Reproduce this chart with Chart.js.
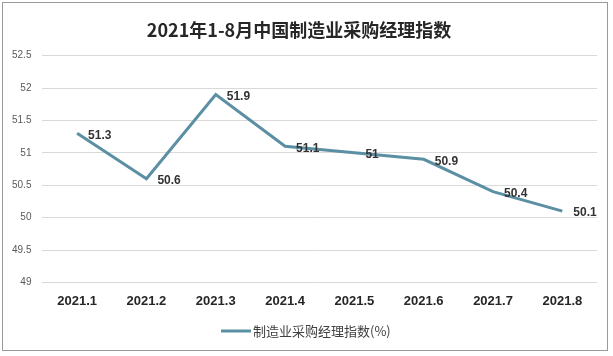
<!DOCTYPE html>
<html><head><meta charset="utf-8">
<script src="https://cdn.jsdelivr.net/npm/chart.js@4/dist/chart.umd.min.js"></script>
<style>html,body{margin:0;padding:0;background:#fff}#wrap{width:613px;height:356px;position:relative}</style>
</head><body><div id="wrap"><canvas id="c" width="613" height="356"></canvas></div>
<script>
const categories = ['2021.1','2021.2','2021.3','2021.4','2021.5','2021.6','2021.7','2021.8'];
const pmiValues = [51.3, 50.6, 51.9, 51.1, 51, 50.9, 50.4, 50.1];
const seriesName = '制造业采购经理指数(%)';
const titleText = '2021年1-8月中国制造业采购经理指数';
const yTicks = [49, 49.5, 50, 50.5, 51, 51.5, 52, 52.5];

const CJK = '"Noto Sans CJK SC", "Liberation Sans", sans-serif';
const LAT = '"Liberation Sans", Arial, sans-serif';
const lineColor = '#5b8fa3';

const borderPlugin = {
  id: 'frame',
  beforeDraw(chart) {
    const ctx = chart.ctx;
    ctx.save();
    ctx.fillStyle = '#fff';
    ctx.fillRect(0, 0, chart.width, chart.height);
    ctx.strokeStyle = '#9a9a9a';
    ctx.lineWidth = 1;
    ctx.strokeRect(2.5, 2.5, 605, 348);
    ctx.restore();
  }
};

const labelPlugin = {
  id: 'valueLabels',
  afterDatasetsDraw(chart) {
    const ctx = chart.ctx;
    const meta = chart.getDatasetMeta(0);
    ctx.save();
    ctx.font = 'bold 12px ' + LAT;
    ctx.fillStyle = '#333333';
    ctx.textAlign = 'left';
    ctx.textBaseline = 'middle';
    meta.data.forEach((pt, i) => {
      ctx.fillText(String(chart.data.datasets[0].data[i]), pt.x + 11, pt.y + 2);
    });
    ctx.restore();
  }
};

const legendPlugin = {
  id: 'customLegend',
  afterDraw(chart) {
    const ctx = chart.ctx;
    ctx.save();
    ctx.font = '13px ' + CJK;
    const tw = ctx.measureText(seriesName).width;
    const lw = 30, gap = 2;
    const total = lw + gap + tw;
    const x0 = Math.round(chart.width / 2 - 1 - total / 2);
    const y = 331;
    ctx.strokeStyle = lineColor;
    ctx.lineWidth = 3;
    ctx.beginPath();
    ctx.moveTo(x0, y);
    ctx.lineTo(x0 + lw, y);
    ctx.stroke();
    ctx.fillStyle = '#404040';
    ctx.textAlign = 'left';
    ctx.textBaseline = 'middle';
    ctx.fillText(seriesName, x0 + lw + gap, y);
    ctx.restore();
  }
};

new Chart(document.getElementById('c'), {
  type: 'line',
  data: {
    labels: categories,
    datasets: [{
      label: seriesName,
      data: pmiValues,
      borderColor: lineColor,
      backgroundColor: lineColor,
      borderWidth: 3,
      pointRadius: 0,
      tension: 0,
      fill: false
    }]
  },
  options: {
    responsive: false,
    animation: false,
    devicePixelRatio: 1,
    layout: { padding: { left: 1, right: 16, top: 6, bottom: 36 } },
    plugins: {
      title: {
        display: true,
        text: titleText,
        color: '#262626',
        font: { family: CJK, size: 18, weight: 'bold' },
        padding: { top: 13, bottom: 15 }
      },
      legend: { display: false },
      tooltip: { enabled: false }
    },
    scales: {
      x: {
        offset: true,
        grid: { display: false, drawTicks: false },
        border: { display: false },
        ticks: {
          color: '#262626',
          font: { family: LAT, size: 13, weight: 'bold' },
          padding: 11,
          maxRotation: 0
        }
      },
      y: {
        min: 49,
        max: 52.5,
        afterBuildTicks(axis) { axis.ticks = yTicks.map(v => ({ value: v })); },
        grid: { color: '#d9d9d9', drawTicks: false },
        border: { display: false },
        ticks: {
          color: '#595959',
          font: { family: LAT, size: 10 },
          padding: 11,
          callback: v => String(v)
        }
      }
    }
  },
  plugins: [borderPlugin, labelPlugin, legendPlugin]
});
</script></body></html>
